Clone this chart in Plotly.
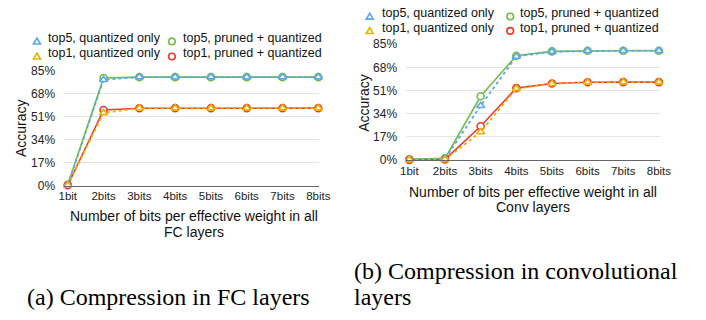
import plotly.graph_objects as go

W, H = 706, 320

bit_labels = ["1bit", "2bits", "3bits", "4bits", "5bits", "6bits", "7bits", "8bits"]
bits = [1, 2, 3, 4, 5, 6, 7, 8]
y_ticks = [0, 17, 34, 51, 68, 85]

# (a) FC layers
fc_top5_quant = [0.5, 78.4, 80.3, 80.3, 80.3, 80.3, 80.3, 80.3]
fc_top5_pruned = [0.5, 79.6, 80.3, 80.3, 80.3, 80.3, 80.3, 80.3]
fc_top1_quant = [0.2, 53.8, 57.2, 57.3, 57.3, 57.3, 57.3, 57.3]
fc_top1_pruned = [0.2, 56.0, 57.2, 57.3, 57.3, 57.3, 57.3, 57.3]

# (b) Conv layers
conv_top5_quant = [0.5, 1.0, 39.8, 76.0, 79.6, 80.2, 80.3, 80.3]
conv_top5_pruned = [0.5, 1.2, 46.8, 76.6, 79.8, 80.3, 80.3, 80.3]
conv_top1_quant = [0.1, 0.3, 20.6, 52.4, 56.0, 57.0, 57.2, 57.2]
conv_top1_pruned = [0.1, 0.4, 24.8, 52.8, 56.2, 57.1, 57.2, 57.2]

series_names = ["top5, quantized only", "top5, pruned + quantized",
                "top1, quantized only", "top1, pruned + quantized"]

BLUE = "#5aa6f0"
GREEN = "#6fbd45"
YELLOW = "#e5b300"
RED = "#f2382b"

def px(x):
    return x / W

def py(y):
    return 1 - y / H

fig = go.Figure()

def add_series(vals, color, sym, dash, xa, ya, width):
    fig.add_trace(go.Scatter(
        x=bits, y=vals, xaxis=xa, yaxis=ya, mode="lines+markers",
        line=dict(color=color, width=width, dash=dash),
        marker=dict(symbol=sym, size=7, color="white",
                    line=dict(color=color, width=1.6)),
        cliponaxis=False, showlegend=False, hoverinfo="skip"))

for xa, ya, d in [("x", "y", (fc_top5_quant, fc_top5_pruned, fc_top1_quant, fc_top1_pruned)),
                  ("x2", "y2", (conv_top5_quant, conv_top5_pruned, conv_top1_quant, conv_top1_pruned))]:
    t5q, t5p, t1q, t1p = d
    add_series(t5p, GREEN, "circle", "solid", xa, ya, 1.6)
    add_series(t1p, RED, "circle", "solid", xa, ya, 1.6)
    add_series(t5q, BLUE, "triangle-up", "dot", xa, ya, 1.8)
    add_series(t1q, YELLOW, "triangle-up", "dot", xa, ya, 1.8)

xtickfont = dict(family="Liberation Sans, Arial", size=11.5, color="#222")
ytickfont = dict(family="Liberation Sans, Arial", size=12, color="#222")

def xaxis_cfg(dom, rng):
    return dict(domain=dom, range=rng, tickmode="array", tickvals=bits, ticktext=bit_labels,
                showgrid=False, zeroline=False, showline=True, linecolor="#666", linewidth=1,
                ticks="", tickfont=xtickfont, fixedrange=True)

def yaxis_cfg(dom, anchor):
    return dict(domain=dom, range=[0, 85], tickmode="array", tickvals=y_ticks,
                ticktext=[f"{v}%" for v in y_ticks], showgrid=True, gridcolor="#e4e4e4",
                gridwidth=1, zeroline=False, showline=False, ticks="", tickfont=ytickfont,
                anchor=anchor, ticklabelstandoff=8, fixedrange=True)

fig.update_layout(
    width=W, height=H, margin=dict(l=0, r=0, t=0, b=0),
    paper_bgcolor="white", plot_bgcolor="white", showlegend=False,
    xaxis=xaxis_cfg([px(59.5), px(321)], [1 - 3.8 / 36.67, 8 + 1 / 36.67]),
    yaxis=yaxis_cfg([py(186.7), py(66.7)], "x"),
    xaxis2=xaxis_cfg([px(410), px(670)], [1 - 3.3 / 36.53, 8 + 1 / 36.53]),
    yaxis2=yaxis_cfg([py(160), py(39)], "x2"),
)
fig.layout.xaxis.anchor = "y"
fig.layout.xaxis2.anchor = "y2"

annotations = []
shapes = []

def text(x, y, s, size, family="Liberation Sans, Arial", xanchor="left", angle=0, color="#111"):
    annotations.append(dict(x=px(x), y=py(y), xref="paper", yref="paper", text=s,
                            showarrow=False, xanchor=xanchor, yanchor="middle",
                            textangle=angle, borderpad=0,
                            font=dict(family=family, size=size, color=color)))

def circle_marker(cx, cy, color):
    r = 3.4
    shapes.append(dict(type="circle", xref="paper", yref="paper",
                       x0=px(cx - r), x1=px(cx + r), y0=py(cy + r), y1=py(cy - r),
                       line=dict(color=color, width=1.6), fillcolor="white"))

def tri_marker(cx, cy, color):
    h = 3.6
    path = (f"M {px(cx - h)},{py(cy + h * 0.75)} L {px(cx + h)},{py(cy + h * 0.75)} "
            f"L {px(cx)},{py(cy - h * 0.95)} Z")
    shapes.append(dict(type="path", xref="paper", yref="paper", path=path,
                       line=dict(color=color, width=1.6), fillcolor="white"))

# legends
for (c1m, c1t, c2m, c2t, r1, r2) in [(31.7, 42, 170, 180, 36, 51.7),
                                      (372.7, 384, 516.7, 525.5, 10, 25)]:
    tri_marker(c1m, r1, BLUE)
    text(c1t, r1 - 3.5, series_names[0], 12.5)
    circle_marker(c2m, r1, GREEN)
    text(c2t, r1 - 3.5, series_names[1], 12.5)
    tri_marker(c1m, r2, YELLOW)
    text(c1t, r2 - 3.5, series_names[2], 12.5)
    circle_marker(c2m, r2, RED)
    text(c2t, r2 - 3.5, series_names[3], 12.5)

# axis titles
text(16, 127, "Accuracy", 14, xanchor="center", angle=-90)
text(366, 100, "Accuracy", 14, xanchor="center", angle=-90)
text(192.5, 219, "Number of bits per effective weight in all", 14, xanchor="center")
text(192.5, 235, "FC layers", 14, xanchor="center")
text(540.5, 193.5, "Number of bits per effective weight in all", 14, xanchor="center")
text(540.5, 209.5, "Conv layers", 14, xanchor="center")

# captions
serif = "Liberation Serif, Times New Roman"
text(21, 303.5, "(a) Compression in FC layers", 24, family=serif, color="#000")
text(356, 276, "(b) Compression in convolutional", 24, family=serif, color="#000")
text(356, 303.5, "layers", 24, family=serif, color="#000")

fig.update_layout(annotations=annotations, shapes=shapes)
fig.write_html("out.html")
